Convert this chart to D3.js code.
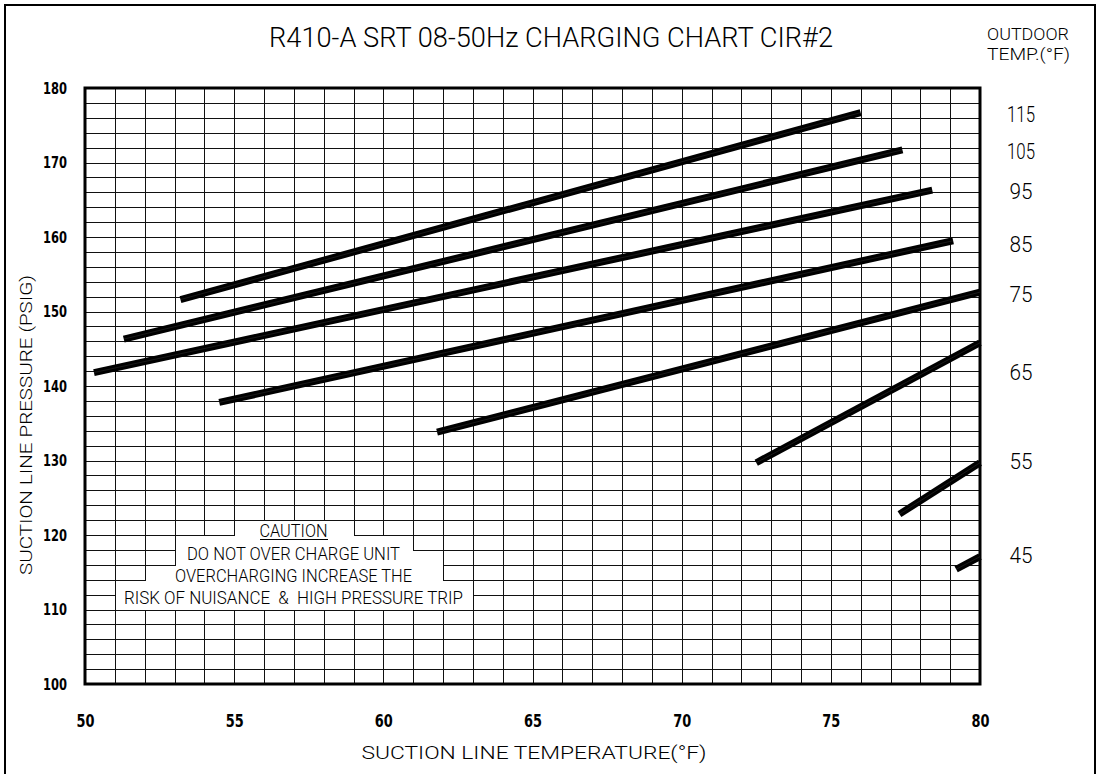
<!DOCTYPE html>
<html>
<head>
<meta charset="utf-8">
<script src="https://cdn.jsdelivr.net/npm/d3@7"></script>
<style>
  body { margin: 0; background: #fff; }
  text { font-family: Roboto, "Open Sans", sans-serif; font-weight: 300; fill: #000; }
  .tick text { font-family: "DejaVu Sans Condensed", "DejaVu Sans", sans-serif; font-weight: bold; }
</style>
</head>
<body>
<svg width="1100" height="774"></svg>
<script>

const tempTicks = [50, 55, 60, 65, 70, 75, 80];
const pressTicks = [100, 110, 120, 130, 140, 150, 160, 170, 180];

// one charging line per outdoor temperature
const outdoorTemps = [115, 105, 95, 85, 75, 65, 55, 45];
const startTemp  = [53.2, 51.3, 50.3, 54.5, 61.8, 72.5, 77.3, 79.2];
const startPress = [151.6, 146.3, 141.8, 137.8, 133.8, 129.7, 122.8, 115.4];
const endTemp    = [76.0, 77.4, 78.4, 79.1, 80, 80, 80, 80];
const endPress   = [176.7, 171.7, 166.3, 159.5, 152.6, 145.8, 129.7, 117.1];
const labelPress = [176.5, 171.6, 166.2, 159.1, 152.3, 141.9, 129.9, 117.3];

// stepped box cut out of the grid for the caution note
const cautionTemp  = [55, 59, 59, 61, 61, 62, 62, 63, 63, 51, 51, 52, 52, 53, 53, 55];
const cautionPress = [122, 122, 120, 120, 118, 118, 114, 114, 110, 110, 114, 114, 116, 116, 120, 120];
const cautionLines = ["CAUTION", "DO NOT OVER CHARGE UNIT", "OVERCHARGING INCREASE THE",
  "RISK OF NUISANCE  &  HIGH PRESSURE TRIP"];

const svg = d3.select("svg");

const margin = {top: 88, right: 120, bottom: 90, left: 85};
const width = 1100 - margin.left - margin.right;
const height = 774 - margin.top - margin.bottom;

const x = d3.scaleLinear().domain([50, 80]).range([margin.left, margin.left + width]);
const y = d3.scaleLinear().domain([100, 180]).range([margin.top + height, margin.top]);
const snap = v => Math.round(v) + 0.5;

// outer frame
svg.append("rect")
  .attr("x", 5).attr("y", 5).attr("width", 1090).attr("height", 790)
  .attr("fill", "none").attr("stroke", "#000").attr("stroke-width", 2);

// grid: 1 degF by 2 psig
const gridG = svg.append("g")
  .attr("stroke", "#111").attr("stroke-width", 1).attr("shape-rendering", "crispEdges");

gridG.selectAll(".v")
  .data(d3.range(51, 80))
  .enter().append("line")
    .attr("x1", d => snap(x(d))).attr("x2", d => snap(x(d)))
    .attr("y1", y(180)).attr("y2", y(100));

gridG.selectAll(".h")
  .data(d3.range(102, 180, 2))
  .enter().append("line")
    .attr("y1", d => snap(y(d))).attr("y2", d => snap(y(d)))
    .attr("x1", x(50)).attr("x2", x(80));

// caution cut-out
const cautionPts = cautionTemp.map((t, i) => [snap(x(t)), snap(y(cautionPress[i]))]);
svg.append("path")
  .attr("d", d3.line()(cautionPts) + "Z")
  .attr("fill", "#fff")
  .attr("stroke", "#111").attr("stroke-width", 1)
  .attr("shape-rendering", "crispEdges");

const noteY = [537, 560, 582, 604];
const noteW = [68, 213, 237, 339];
svg.append("g").selectAll("text")
  .data(cautionLines)
  .enter().append("text")
    .attr("x", 293.5)
    .attr("y", (d, i) => noteY[i])
    .attr("text-anchor", "middle")
    .attr("font-size", 17.5)
    .attr("textLength", (d, i) => noteW[i])
    .attr("lengthAdjust", "spacingAndGlyphs")
    .style("white-space", "pre")
    .text(d => d);

svg.append("line")
  .attr("x1", 260).attr("x2", 328).attr("y1", 539.5).attr("y2", 539.5)
  .attr("stroke", "#000").attr("stroke-width", 1);

// plot frame
svg.append("rect")
  .attr("x", x(50)).attr("y", y(180))
  .attr("width", x(80) - x(50)).attr("height", y(100) - y(180))
  .attr("fill", "none").attr("stroke", "#000").attr("stroke-width", 3);

// charging lines
const linesG = svg.append("g");
outdoorTemps.forEach((t, i) => {
  const pts = [[x(startTemp[i]), y(startPress[i])], [x(endTemp[i]), y(endPress[i])]];
  linesG.append("path")
    .attr("d", d3.line()(pts))
    .attr("stroke", "#000").attr("stroke-width", 7).attr("fill", "none");
  linesG.append("path")
    .attr("d", d3.line()(pts))
    .attr("stroke", "#fff").attr("stroke-width", 0.5).attr("opacity", 0.2).attr("fill", "none");
});

// outdoor temperature labels
svg.append("g").selectAll("text")
  .data(outdoorTemps)
  .enter().append("text")
    .attr("x", 1021)
    .attr("y", (d, i) => y(labelPress[i]))
    .attr("dy", "0.36em")
    .attr("text-anchor", "middle")
    .attr("font-size", 22)
    .attr("textLength", d => d >= 100 ? 28 : 23)
    .attr("lengthAdjust", "spacingAndGlyphs")
    .text(d => d);

// axes
const yAxis = d3.axisLeft(y).tickValues(pressTicks).tickSize(0).tickPadding(18);
svg.append("g")
  .attr("transform", `translate(${margin.left},0)`)
  .call(yAxis)
  .call(g => g.select(".domain").remove())
  .selectAll("text")
    .attr("font-size", 16).attr("fill", "#000")
    .attr("textLength", 24).attr("lengthAdjust", "spacingAndGlyphs");

const xAxis = d3.axisBottom(x).tickValues(tempTicks).tickSize(0).tickPadding(31);
svg.append("g")
  .attr("transform", `translate(0,${margin.top + height})`)
  .call(xAxis)
  .call(g => g.select(".domain").remove())
  .selectAll("text")
    .attr("font-size", 17).attr("fill", "#000")
    .attr("textLength", 18).attr("lengthAdjust", "spacingAndGlyphs");

// titles
svg.append("text")
  .attr("x", 269).attr("y", 47)
  .attr("font-size", 27)
  .attr("textLength", 564).attr("lengthAdjust", "spacingAndGlyphs")
  .text("R410-A SRT 08-50Hz CHARGING CHART CIR#2");

svg.append("text")
  .attr("x", 987).attr("y", 40)
  .attr("font-size", 17)
  .attr("textLength", 82).attr("lengthAdjust", "spacingAndGlyphs")
  .text("OUTDOOR");

svg.append("text")
  .attr("x", 987).attr("y", 60)
  .attr("font-size", 17)
  .attr("textLength", 83).attr("lengthAdjust", "spacingAndGlyphs")
  .text("TEMP.(°F)");

svg.append("text")
  .attr("x", 534).attr("y", 759)
  .attr("text-anchor", "middle")
  .attr("font-size", 18)
  .attr("textLength", 345).attr("lengthAdjust", "spacingAndGlyphs")
  .text("SUCTION LINE TEMPERATURE(°F)");

svg.append("text")
  .attr("transform", "translate(32,425) rotate(-90)")
  .attr("text-anchor", "middle")
  .attr("font-size", 17)
  .attr("textLength", 300).attr("lengthAdjust", "spacingAndGlyphs")
  .text("SUCTION LINE PRESSURE (PSIG)");

</script>
</body>
</html>
